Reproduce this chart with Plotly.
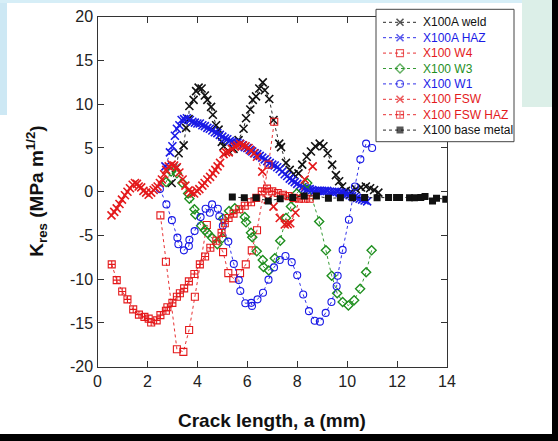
import plotly.graph_objects as go

# ---------------- data ----------------
weld_x = [2.97, 3.15, 3.25, 3.45, 3.55, 3.65, 3.68, 3.85, 3.95, 4.05, 4.17, 4.30, 4.40, 4.55, 4.62, 4.75,
          4.85, 4.98, 5.05, 5.25, 5.45, 5.65, 5.85, 5.95, 6.12, 6.22, 6.35, 6.48, 6.62, 6.70, 6.88, 7.05,
          7.28, 7.35, 7.55, 7.70, 7.85, 8.05, 8.20, 8.38, 8.55, 8.72, 8.90, 9.05, 9.22, 9.40, 9.55, 9.68,
          9.80, 9.95, 10.15, 10.35, 10.55, 10.75, 10.92, 11.08, 11.25]
weld_y = [1.0, 2.7, 4.4, 5.3, 7.3, 8.3, 9.8, 10.5, 11.5, 11.9, 11.8, 11.0, 10.5, 9.7, 8.8, 7.6,
          7.1, 5.7, 5.2, 4.6, 4.9, 5.9, 7.2, 8.4, 9.4, 10.5, 10.9, 11.8, 12.5, 11.6, 10.6, 8.2,
          5.5, 5.1, 3.3, 2.5, 2.0, 2.1, 3.1, 4.0, 4.6, 5.2, 5.5, 5.2, 4.4, 3.1, 1.9, 1.2,
          0.6, 0.1, 0.0, 0.3, 0.5, 0.6, 0.4, 0.2, -0.1]

haz_x = [2.72, 2.90, 3.00, 3.10, 3.18, 3.28, 3.37, 3.47, 3.58, 3.70, 3.80, 3.90, 4.00, 4.10, 4.20, 4.30,
         4.40, 4.50, 4.60, 4.70, 4.80, 4.90, 5.00, 5.10, 5.20, 5.30, 5.40, 5.50, 5.60, 5.70, 5.80, 5.90,
         6.00, 6.10, 6.20, 6.30, 6.40, 6.50, 6.60, 6.70, 6.80, 6.90, 7.00, 7.10, 7.20, 7.30, 7.40, 7.50,
         7.60, 7.70, 7.80, 7.90, 8.00, 8.10, 8.20, 8.30, 8.40, 8.50, 8.60, 8.70, 8.80, 8.90, 9.00, 9.10,
         9.20, 9.30, 9.40, 9.50, 9.60, 9.70, 9.80, 9.90, 10.00, 10.10, 10.20, 10.30, 10.40, 10.50, 10.60,
         10.70, 10.80]
haz_y = [2.9, 4.5, 5.2, 6.4, 7.2, 7.6, 8.2, 8.3, 8.4, 8.2, 8.0, 7.9, 7.8, 7.8, 7.6, 7.5,
         7.3, 7.2, 7.0, 6.8, 6.7, 6.5, 6.3, 6.1, 6.0, 5.8, 5.7, 5.6, 5.6, 5.5, 5.3, 5.1,
         5.0, 4.8, 4.6, 4.4, 4.3, 4.1, 3.9, 3.7, 3.5, 3.3, 3.1, 3.0, 2.8, 2.6, 2.3, 2.0,
         1.8, 1.5, 1.3, 1.1, 0.9, 0.7, 0.5, 0.4, 0.3, 0.3, 0.2, 0.1, 0.1, 0.1, 0.1, 0.1,
         0.1, 0.0, 0.0, 0.0, 0.0, -0.1, -0.1, -0.2, -0.3, -0.4, -0.5, -0.6, -0.7, -0.8, -0.9,
         -1.0, -1.1]

w4_x = [2.52, 2.74, 3.18, 3.44, 3.67, 3.90, 4.38, 5.03, 5.24, 5.44, 5.71, 5.94, 6.18, 6.39, 6.85, 7.08]
w4_y = [-2.7, -8.0, -18.0, -18.3, -15.8, -12.0, -3.8, -6.9, -9.3, -9.9, -9.3, -8.3, -6.7, -4.4, 3.1, 8.0]

w3_x = [2.75, 2.95, 3.18, 3.40, 3.63, 3.68, 3.88, 3.92, 4.15, 4.30, 4.40, 4.60, 4.80, 5.00, 5.03, 5.27,
        5.50, 5.90, 5.95, 6.15, 6.20, 6.38, 6.62, 6.65, 6.86, 7.10, 7.32, 7.55, 7.75, 7.98, 8.40,
        8.88, 9.15, 9.38, 9.60, 9.82, 10.05, 10.28, 10.52, 10.76, 10.98]
w3_y = [1.1, 2.3, 2.1, 1.0, -0.2, -0.8, -2.0, -2.6, -3.9, -4.4, -4.7, -5.3, -6.0, -5.3, -3.1, -2.2,
        -1.9, -2.9, -3.5, -4.7, -5.2, -6.8, -7.8, -8.6, -9.0, -7.6, -5.6, -3.0, -1.7, -0.2, 1.0,
        -3.4, -6.7, -9.6, -11.6, -12.6, -13.0, -12.4, -11.1, -9.2, -6.7]

w1_x = [2.50, 2.76, 2.98, 3.20, 3.24, 3.46, 3.66, 3.68, 3.89, 4.13, 4.33, 4.50, 4.59, 4.82, 4.88, 5.02,
        5.24, 5.46, 5.66, 5.72, 5.92, 6.16, 6.19, 6.41, 6.63, 6.85, 7.07, 7.30, 7.53, 7.78, 8.00,
        8.24, 8.47, 8.70, 8.91, 9.14, 9.37, 9.58, 9.62, 9.82, 10.07, 10.31, 10.53, 10.76, 11.00]
w1_y = [0.3, -1.45, -3.25, -5.25, -6.0, -6.7, -6.2, -5.5, -4.5, -2.9, -1.95, -2.4, -1.45, -1.95, -2.8, -3.9,
        -5.7, -8.25, -10.1, -11.35, -12.75, -12.7, -13.05, -12.3, -11.55, -10.05, -8.65, -7.8, -7.35, -8.05, -9.55,
        -11.75, -13.65, -14.75, -14.85, -13.85, -12.6, -10.8, -9.6, -6.65, -3.2, 0.6, 3.7, 5.5, 5.0]

fsw_x = [0.56, 0.67, 0.77, 0.88, 0.98, 1.10, 1.20, 1.30, 1.41, 1.50, 1.58, 1.65, 1.75, 1.84, 1.95, 2.05,
         2.15, 2.25, 2.33, 2.41, 2.50, 2.58, 2.67, 2.75, 2.85, 2.97, 3.07, 3.18, 3.28, 3.41, 3.52, 3.65,
         3.75, 3.87, 3.98, 4.08, 4.20, 4.29, 4.40, 4.51, 4.62, 4.72, 4.81, 4.91, 5.05, 5.15, 5.26, 5.38,
         5.50, 5.60, 5.72, 5.83, 5.93, 6.05, 6.15, 6.27, 6.39, 6.60, 6.82, 7.05, 7.30, 7.50, 7.62, 7.72,
         7.93, 8.30, 8.62]
fsw_y = [-2.7, -2.3, -1.9, -1.4, -0.9, -0.4, 0.0, 0.4, 0.8, 1.0, 0.9, 0.6, 0.5, 0.1, -0.1, -0.35,
         -0.1, 0.2, 0.4, 0.6, 1.0, 1.4, 2.0, 2.5, 2.9, 3.1, 3.0, 2.8, 2.2, 1.4, 0.7, 0.15,
         -0.1, -0.2, 0.1, 0.3, 0.7, 1.0, 1.4, 1.7, 2.1, 2.5, 2.9, 3.3, 4.3, 4.5, 4.5, 4.9,
         5.15, 5.3, 5.45, 5.3, 5.2, 5.0, 4.7, 4.4, 4.0, 2.3, -0.9, -1.7, -3.0, -3.75, -3.7, -3.6,
         -2.4, 1.4, 2.9]

fswhaz_x = [0.57, 0.77, 0.99, 1.20, 1.43, 1.66, 1.88, 2.05, 2.15, 2.37, 2.52, 2.74, 2.80, 3.00, 3.18,
            3.30, 3.47, 3.66, 3.88, 4.10, 4.31, 4.52, 4.76, 4.97, 5.10, 5.25, 5.45, 5.68, 5.90, 6.15,
            6.36, 6.58, 6.79, 7.00, 7.22, 7.43, 7.65, 7.86, 8.07, 8.29, 8.50]
fswhaz_y = [-8.3, -10.1, -11.4, -12.3, -13.45, -14.05, -14.3, -14.5, -14.95, -14.7, -14.1, -13.6, -13.2, -12.7, -12.0,
            -11.6, -11.05, -10.25, -9.4, -8.3, -7.4, -6.4, -5.6, -4.7, -3.6, -3.0, -2.5, -2.0, -1.6, -1.2,
            -0.7, 0.04, 0.35, 0.04, -0.15, -0.34, -0.5, -0.7, -0.8, -0.8, -0.8]

base_x = [5.40, 5.88, 6.36, 6.84, 7.32, 7.82, 8.28, 8.77, 9.25, 9.73, 10.22, 10.70, 11.20, 11.66, 11.98,
          12.10, 12.50, 12.70, 12.95, 13.12, 13.42, 13.58, 13.95]
base_y = [-0.6, -0.7, -0.7, -1.05, -0.8, -0.65, -0.5, -0.5, -0.75, -0.7, -0.7, -0.65, -0.7, -0.65, -0.65,
          -0.65, -0.7, -0.7, -0.65, -0.55, -1.05, -0.75, -0.85]

series_names = ["X100A weld", "X100A HAZ", "X100 W4", "X100 W3", "X100 W1",
                "X100 FSW", "X100 FSW HAZ", "X100 base metal"]
series_x = [weld_x, haz_x, w4_x, w3_x, w1_x, fsw_x, fswhaz_x, base_x]
series_y = [weld_y, haz_y, w4_y, w3_y, w1_y, fsw_y, fswhaz_y, base_y]

x_ticks = [0, 2, 4, 6, 8, 10, 12, 14]
y_ticks = [-20, -15, -10, -5, 0, 5, 10, 15, 20]

# ---------------- styles ----------------
BLACK = "#111111"
BLUE = "#1a1ae6"
RED = "#e41a1c"
GREEN = "#1f8f1f"
styles = [
    dict(color=BLACK, symbol="x-thin-open", size=8, lw=1.6),
    dict(color=BLUE, symbol="x-thin-open", size=8, lw=1.6),
    dict(color=RED, symbol="square-open", size=7, lw=1.1),
    dict(color=GREEN, symbol="diamond-open", size=7, lw=1.4),
    dict(color=BLUE, symbol="circle-open", size=7, lw=1.1),
    dict(color=RED, symbol="x-thin-open", size=8, lw=1.6),
    dict(color=RED, symbol="square-cross-open", size=7, lw=1.1),
    dict(color=BLACK, symbol="square", size=7, lw=0),
]
legend_styles = [dict(s, size=min(s["size"], 7)) for s in styles]

FONT = "Liberation Sans, Arial, sans-serif"
W, H = 558, 441

def px_x(p):
    return p / W

def px_y(p):
    return (H - p) / H

# plot frame in pixels (from the reference)
PL, PR, PT, PB = 97.5, 447.0, 16.7, 366.7
# legend box in pixels
LL, LR, LT, LB = 376.0, 514.0, 9.3, 141.7
LEG_ROW0, LEG_ROW_STEP = 22.3, 15.4

fig = go.Figure()
for name, xs, ys, st in zip(series_names, series_x, series_y, styles):
    fig.add_trace(go.Scatter(
        x=xs, y=ys, mode="lines+markers", name=name, showlegend=False,
        xaxis="x", yaxis="y",
        line=dict(color=st["color"], width=0.9, dash="3px,3px"),
        marker=dict(symbol=st["symbol"], size=st["size"], color=st["color"],
                    line=dict(color=st["color"], width=st["lw"])),
    ))

# ---- legend drawn in its own small subplot (units: pixels inside the box / row index) ----
leg_w = LR - LL
row_top = (LT - LEG_ROW0) / LEG_ROW_STEP
row_bot = (LB - LEG_ROW0) / LEG_ROW_STEP
fig.add_trace(go.Scatter(
    x=[0, leg_w, leg_w, 0, 0], y=[row_top, row_top, row_bot, row_bot, row_top],
    xaxis="x2", yaxis="y2", mode="lines", fill="toself", fillcolor="white",
    line=dict(color="white", width=0), showlegend=False, hoverinfo="skip"))
annotations = []
for i, (name, st) in enumerate(zip(series_names, legend_styles)):
    fig.add_trace(go.Scatter(
        x=[7, 24, 41], y=[i, i, i], xaxis="x2", yaxis="y2", mode="lines+markers",
        showlegend=False, hoverinfo="skip",
        line=dict(color=st["color"], width=0.9, dash="3px,3px"),
        marker=dict(symbol=st["symbol"], size=[0, st["size"], 0], color=st["color"],
                    line=dict(color=st["color"], width=st["lw"])),
    ))
    annotations.append(dict(
        text=name, xref="x2", yref="y2", x=45, y=i, xanchor="left", yanchor="middle",
        showarrow=False, font=dict(family=FONT, size=12, color=st["color"])))

axis_common = dict(
    showgrid=False, zeroline=False, showline=True, linecolor="#333333", linewidth=1.3,
    mirror="ticks", ticks="inside", ticklen=6, tickwidth=1.2, tickcolor="#333333",
    tickfont=dict(family=FONT, size=16, color="#222222"), automargin=False,
)

shapes = [
    # screenshot decoration
    dict(type="rect", xref="paper", yref="paper", x0=0, x1=1, y0=0, y1=px_y(434),
         fillcolor="black", line_width=0, layer="below"),
    dict(type="rect", xref="paper", yref="paper", x0=px_x(552), x1=1, y0=0, y1=1,
         fillcolor="black", line_width=0, layer="below"),
    dict(type="rect", xref="paper", yref="paper", x0=px_x(522), x1=px_x(552), y0=px_y(107), y1=1,
         fillcolor="#dcefe8", line_width=0, layer="below"),
    dict(type="rect", xref="paper", yref="paper", x0=0, x1=px_x(7), y0=px_y(115), y1=1,
         fillcolor="#cde8f4", line_width=0, layer="below"),
    dict(type="rect", xref="paper", yref="paper", x0=0, x1=px_x(522), y0=px_y(3), y1=1,
         fillcolor="#d6eef7", line_width=0, layer="below"),
    # legend border
    dict(type="rect", xref="paper", yref="paper", x0=px_x(LL), x1=px_x(LR), y0=px_y(LB), y1=px_y(LT),
         line=dict(color="#444444", width=1), fillcolor="rgba(0,0,0,0)", layer="above"),
]

annotations += [
    dict(text="<b>Crack length, a (mm)</b>", xref="paper", yref="paper", x=0.5 * (px_x(PL) + px_x(PR)),
         y=px_y(420), xanchor="center", yanchor="middle", showarrow=False,
         font=dict(family=FONT, size=19, color="#111111")),
    dict(text="<b>K<sub>res</sub> (MPa m<sup>1/2</sup>)</b>", xref="paper", yref="paper",
         x=px_x(37), y=0.5 * (px_y(PT) + px_y(PB)), xanchor="center", yanchor="middle",
         textangle=-90, showarrow=False, font=dict(family=FONT, size=19, color="#111111")),
]

fig.update_layout(
    width=W, height=H,
    margin=dict(l=0, r=0, t=0, b=0, autoexpand=False),
    paper_bgcolor="white", plot_bgcolor="white",
    xaxis=dict(domain=[px_x(PL), px_x(PR)], range=[0, 14], tickvals=x_ticks,
               ticktext=[str(v) for v in x_ticks], anchor="y", **axis_common),
    yaxis=dict(domain=[px_y(PB), px_y(PT)], range=[-20, 20], tickvals=y_ticks,
               ticktext=[str(v) for v in y_ticks], anchor="x", **axis_common),
    xaxis2=dict(domain=[px_x(LL), px_x(LR)], range=[0, leg_w], visible=False, anchor="y2",
                fixedrange=True, automargin=False),
    yaxis2=dict(domain=[px_y(LB), px_y(LT)], range=[row_bot, row_top], visible=False, anchor="x2",
                fixedrange=True, automargin=False),
    shapes=shapes, annotations=annotations,
    showlegend=False,
    font=dict(family=FONT),
)

fig.write_html("out.html")
